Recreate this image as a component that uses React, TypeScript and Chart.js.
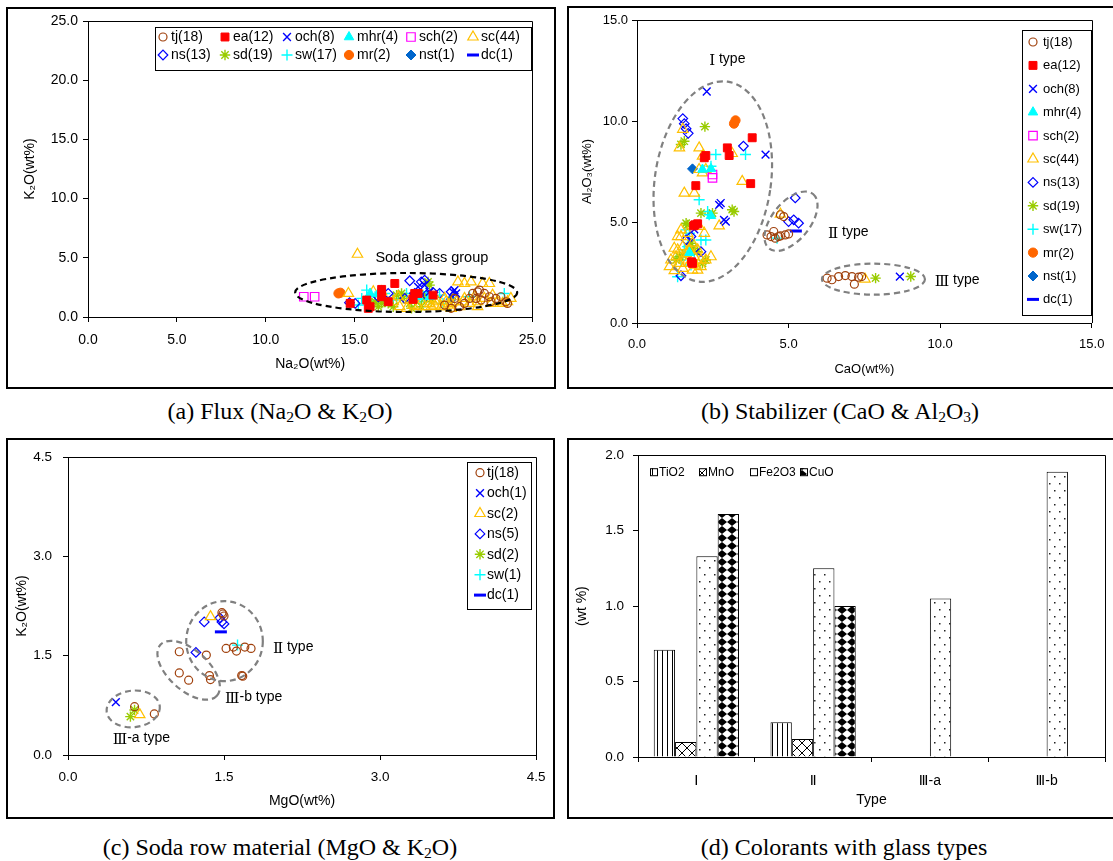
import React, { useEffect, useRef } from 'react';
import { Chart, registerables } from 'chart.js';
import { drawPoint } from 'chart.js/helpers';

Chart.register(...registerables);

const FONT = "'Liberation Sans', Arial, 'DejaVu Sans', sans-serif";
const NUM_FONT = "'DejaVu Serif', 'Liberation Serif', serif";
const CAP_FONT = "'Liberation Serif', 'Times New Roman', serif";

// ---------------- series keys and legend labels ----------------
const keysAB = ['tj', 'ea', 'och', 'mhr', 'sch', 'sc', 'ns', 'sd', 'sw', 'mr', 'nst', 'dc'];
const labelsAB = ['tj(18)', 'ea(12)', 'och(8)', 'mhr(4)', 'sch(2)', 'sc(44)', 'ns(13)', 'sd(19)', 'sw(17)', 'mr(2)', 'nst(1)', 'dc(1)'];
const keysC = ['tj', 'och', 'sc', 'ns', 'sd', 'sw', 'dc'];
const labelsC = ['tj(18)', 'och(1)', 'sc(2)', 'ns(5)', 'sd(2)', 'sw(1)', 'dc(1)'];

// ---------------- (a) Na2O (x) vs K2O (y) ----------------
const tjA = [[20.62, 1.57], [20.9, 0.87], [21.18, 1.15], [21.46, 1.57], [21.64, 1.99], [21.92, 2.13], [22.02, 2.27], [22.3, 1.99], [22.58, 1.71], [22.95, 1.57], [23.23, 1.71], [23.51, 1.29], [23.6, 1.15], [20.43, 0.73], [20.06, 1.01], [22.67, 1.29], [21.83, 1.57], [22.11, 1.43]];
const eaA = [[14.75, 1.15], [15.77, 0.73], [15.87, 0.87], [16.52, 2.33], [17.26, 2.83], [16.52, 1.71], [18.38, 1.99], [18.57, 1.99], [19.41, 1.85], [16.89, 1.29], [18.29, 1.49], [15.68, 1.43]];
const ochA = [[20.53, 2.13], [20.62, 2.27], [14.75, 1.15], [18.57, 2.55], [18.94, 2.69], [20.71, 1.99], [19.22, 2.13], [18.29, 1.71]];
const mhrA = [[15.87, 1.99], [18.57, 1.71], [19.22, 1.71], [16.33, 1.99]];
const schA = [[12.14, 1.71], [12.75, 1.71]];
const scA = [[20.81, 2.97], [21.18, 2.83], [21.55, 2.97], [22.2, 2.83], [22.58, 2.83], [19.22, 1.15], [19.5, 1.01], [19.87, 0.87], [20.25, 1.01], [20.43, 1.15], [20.9, 0.87], [21.09, 1.29], [21.46, 1.15], [21.92, 1.29], [19.5, 1.43], [20.06, 1.57], [20.62, 1.71], [21.18, 1.57], [23.04, 1.29], [23.32, 1.15], [23.6, 1.29], [16.52, 2.13], [14.65, 1.99], [17.17, 1.29], [17.45, 1.71], [18.1, 1.43], [18.57, 0.87], [18.94, 0.87], [19.31, 0.87], [20.06, 0.87], [20.43, 0.73], [19.69, 1.29], [20.15, 1.29], [20.71, 1.29], [21.74, 1.71], [22.3, 1.57], [22.76, 1.85], [18.29, 1.01], [17.54, 0.87], [17.92, 0.73], [16.05, 2.13], [21.92, 0.87], [22.67, 1.15], [23.79, 1.57]];
const nsA = [[14.71, 1.21], [16.89, 1.99], [17.82, 1.57], [18.1, 3.06], [18.75, 2.97], [18.94, 3.11], [18.38, 1.99], [19.41, 2.08], [19.78, 1.99], [20.43, 2.13], [16.33, 1.71], [19.03, 1.85], [15.03, 1.15]];
const sdA = [[16.52, 1.15], [16.89, 1.15], [17.36, 1.85], [17.64, 1.99], [18.2, 0.73], [18.75, 0.87], [19.13, 2.97], [19.22, 2.69], [16.33, 0.87], [16.15, 1.29], [16.7, 1.43], [17.17, 0.87], [18.38, 1.43], [18.94, 1.57], [19.31, 1.29], [15.96, 1.15], [17.73, 1.57], [18.66, 1.99], [18.1, 1.15]];
const swA = [[15.21, 1.01], [15.68, 2.27], [15.77, 1.43], [16.7, 1.99], [17.17, 1.43], [17.92, 1.99], [19.31, 1.85], [19.78, 1.85], [21.46, 1.71], [23.42, 1.99], [15.4, 1.57], [16.33, 1.29], [18.75, 1.29], [19.97, 1.15], [17.36, 1.57], [19.03, 2.13], [16.15, 1.71]];
const mrA = [[14.09, 1.99], [14.2, 2.05]];
const nstA = [[20.43, 1.49]];
const dcA = [[18.66, 1.91]];

// ---------------- (b) CaO (x) vs Al2O3 (y) ----------------
const tjB = [[4.29, 4.36], [4.42, 4.28], [4.56, 4.2], [4.73, 4.31], [4.89, 4.36], [5.0, 4.41], [4.73, 5.36], [4.84, 5.27], [4.51, 4.53], [4.67, 4.28], [6.27, 2.22], [6.43, 2.14], [6.65, 2.3], [6.87, 2.35], [7.09, 2.3], [7.31, 2.27], [7.17, 1.92], [7.41, 2.3]];
const eaB = [[3.8, 9.17], [2.98, 8.67], [3.04, 8.29], [2.27, 8.29], [3.75, 6.9], [1.94, 6.8], [1.91, 4.86], [2.0, 4.91], [1.8, 3.03], [1.83, 2.95], [1.87, 4.81], [2.22, 8.18]];
const ochB = [[2.3, 11.46], [4.24, 8.34], [2.76, 5.94], [2.71, 5.85], [2.87, 5.11], [2.93, 5.02], [1.89, 4.64], [8.67, 2.3]];
const mhrB = [[2.16, 7.6], [2.44, 7.63], [2.44, 5.31], [1.73, 3.48]];
const schB = [[2.49, 7.35], [2.49, 7.18]];
const scB = [[1.51, 9.59], [1.4, 8.67], [2.05, 8.67], [2.16, 8.26], [3.14, 8.39], [3.47, 7.01], [1.56, 6.43], [1.89, 6.43], [1.45, 4.61], [2.05, 4.78], [2.71, 4.81], [1.07, 2.79], [1.23, 2.59], [1.34, 3.62], [1.51, 3.78], [1.29, 3.28], [1.56, 3.12], [1.73, 2.95], [1.94, 2.87], [2.11, 2.79], [1.4, 2.95], [1.62, 3.45], [1.83, 3.95], [2.0, 3.62], [2.16, 7.43], [2.27, 7.6], [1.45, 4.28], [1.67, 4.44], [1.89, 3.28], [1.12, 3.12], [2.05, 7.6], [2.22, 4.44], [1.83, 2.62], [1.34, 4.28], [2.27, 3.12], [1.51, 2.7], [1.73, 3.62], [2.0, 2.62], [1.23, 3.7], [2.11, 3.12], [2.44, 3.28], [1.62, 2.95], [4.73, 5.39], [7.52, 2.17]];
const nsB = [[1.51, 10.12], [1.56, 9.87], [1.62, 9.62], [1.69, 9.39], [3.51, 8.76], [1.62, 4.11], [1.45, 2.34], [5.22, 6.19], [5.0, 5.02], [5.17, 5.11], [5.33, 4.94], [2.11, 3.53], [1.78, 4.28]];
const sdB = [[2.24, 9.72], [1.56, 9.0], [3.14, 5.61], [3.2, 5.52], [2.49, 5.44], [1.62, 4.94], [2.27, 3.12], [1.4, 3.28], [1.51, 3.37], [1.67, 4.86], [2.0, 3.53], [1.83, 3.7], [1.29, 3.12], [1.45, 8.84], [2.11, 5.44], [1.78, 3.95], [2.16, 2.95], [7.87, 2.22], [9.03, 2.3]];
const swB = [[2.6, 8.34], [3.58, 8.34], [2.05, 6.1], [2.33, 5.52], [2.44, 7.76], [1.73, 4.44], [2.27, 4.11], [1.34, 2.29], [1.78, 2.87], [1.56, 3.62], [1.67, 3.78], [1.89, 3.53], [2.38, 5.36], [4.62, 4.2], [2.11, 4.11], [1.45, 3.12], [1.62, 4.61]];
const mrB = [[3.2, 9.87], [3.25, 10.03]];
const nstB = [[1.83, 7.63]];
const dcB = [[5.24, 4.56]];

// ---------------- (c) MgO (x) vs K2O (y) ----------------
const tjC = [[0.64, 0.73], [0.83, 0.62], [1.07, 1.56], [1.07, 1.24], [1.16, 1.13], [1.33, 1.51], [1.36, 1.2], [1.37, 1.14], [1.49, 2.13], [1.5, 2.1], [1.48, 2.15], [1.52, 1.61], [1.59, 1.63], [1.62, 1.57], [1.7, 1.63], [1.76, 1.61], [1.67, 1.2], [1.68, 1.19]];
const ochC = [[0.46, 0.8]];
const scC = [[1.37, 2.09], [0.69, 0.61]];
const nsC = [[1.31, 2.01], [1.23, 1.55], [1.46, 2.07], [1.48, 2.01], [1.5, 1.98]];
const sdC = [[0.6, 0.58], [0.64, 0.68]];
const swC = [[1.63, 1.66]];
const dcC = [[1.47, 1.86]];

// ---------------- (d) colorants by glass type ----------------
const typeCats = ['Ⅰ', 'Ⅱ', 'Ⅲ-a', 'Ⅲ-b'];
const colorantNames = ['TiO2', 'MnO', 'Fe2O3', 'CuO'];
const tio2Vals = [0.71, 0.23, null, null];
const mnoVals = [0.1, 0.12, null, null];
const fe2o3Vals = [1.33, 1.25, 1.05, 1.89];
const cuoVals = [1.61, 1.0, null, null];

// ---------------- marker styles ----------------
const NONE = 'rgba(0,0,0,0)';
const STY: Record<string, { style: string; r: number; fill: string; stroke: string; bw: number }> = {
  tj: { style: 'circle', r: 4, fill: NONE, stroke: '#A0410D', bw: 1.2 },
  ea: { style: 'rect', r: 5.6, fill: '#FF0000', stroke: '#FF0000', bw: 1 },
  och: { style: 'crossRot', r: 5.5, fill: NONE, stroke: '#0000FF', bw: 1.4 },
  mhr: { style: 'triangle', r: 5.5, fill: '#00FFFF', stroke: '#00FFFF', bw: 1 },
  sch: { style: 'rect', r: 6, fill: NONE, stroke: '#FF00FF', bw: 1.2 },
  sc: { style: 'triangle', r: 6, fill: NONE, stroke: '#FFC000', bw: 1.2 },
  ns: { style: 'rectRot', r: 4.8, fill: NONE, stroke: '#0000FF', bw: 1.2 },
  sd: { style: 'star', r: 5.2, fill: NONE, stroke: '#99CC00', bw: 1.4 },
  sw: { style: 'cross', r: 5.5, fill: NONE, stroke: '#00FFFF', bw: 1.4 },
  mr: { style: 'circle', r: 4.6, fill: '#FF6600', stroke: '#FF6600', bw: 1 },
  nst: { style: 'rectRot', r: 5, fill: '#0066CC', stroke: '#0066CC', bw: 1 },
  dc: { style: 'line', r: 6, fill: '#0000FF', stroke: '#0000FF', bw: 3 },
};

function drawMarker(ctx: CanvasRenderingContext2D, key: string, x: number, y: number) {
  const st = STY[key];
  ctx.save();
  ctx.fillStyle = st.fill;
  ctx.strokeStyle = st.stroke;
  ctx.lineWidth = st.bw;
  drawPoint(ctx, { pointStyle: st.style as any, radius: st.r, rotation: 0, borderWidth: st.bw } as any, x, y);
  ctx.restore();
}

interface Ell { cx: number; cy: number; rx: number; ry: number; rot: number; color: string; }
interface Lab { x: number; y: number; num?: string; text: string; }
interface Leg { x: number; y: number; w: number; h: number; cols: number; mx: number; my: number; colW: number; rowH: number; tx: number; fs: number; keys: string[]; labels: string[]; }
interface BarLeg { x0: number[]; y: number; size: number; fs: number; names: string[]; fills: CanvasPattern[]; }
interface Deco { ellipses?: Ell[]; labels?: Lab[]; labelFs?: number; legend?: Leg; markers?: { key: string; x: number; y: number }[]; barLegend?: BarLeg; }

function decoPlugin(cfg: Deco) {
  return {
    id: 'deco',
    afterDraw(chart: any) {
      const ctx: CanvasRenderingContext2D = chart.ctx;
      const ca = chart.chartArea;
      const xs = chart.scales.x;
      const ys = chart.scales.y;
      ctx.save();
      // top / right frame of plot area
      ctx.strokeStyle = '#000';
      ctx.lineWidth = 1;
      ctx.beginPath();
      ctx.moveTo(Math.round(ca.left), Math.round(ca.top) + 0.5);
      ctx.lineTo(Math.round(ca.right) + 0.5, Math.round(ca.top) + 0.5);
      ctx.lineTo(Math.round(ca.right) + 0.5, Math.round(ca.bottom));
      ctx.stroke();
      // dashed group ellipses
      (cfg.ellipses || []).forEach((e) => {
        const px = xs.getPixelForValue(e.cx);
        const py = ys.getPixelForValue(e.cy);
        ctx.beginPath();
        ctx.setLineDash([6, 4]);
        ctx.lineWidth = 2.2;
        ctx.strokeStyle = e.color;
        ctx.ellipse(px, py, e.rx, e.ry, (e.rot * Math.PI) / 180, 0, Math.PI * 2);
        ctx.stroke();
      });
      ctx.setLineDash([]);
      // marker annotations
      (cfg.markers || []).forEach((m) => drawMarker(ctx, m.key, xs.getPixelForValue(m.x), ys.getPixelForValue(m.y)));
      // text annotations
      const fs = cfg.labelFs || 14;
      (cfg.labels || []).forEach((l) => {
        let px = xs.getPixelForValue(l.x);
        const py = ys.getPixelForValue(l.y);
        ctx.fillStyle = '#000';
        ctx.textBaseline = 'middle';
        ctx.textAlign = 'left';
        if (l.num) {
          ctx.font = `${fs + 1}px ${NUM_FONT}`;
          ctx.fillText(l.num, px, py + 2);
          px += ctx.measureText(l.num).width;
        }
        ctx.font = `${fs}px ${FONT}`;
        ctx.fillText(l.text, px, py);
      });
      // legend box
      const L = cfg.legend;
      if (L) {
        ctx.fillStyle = '#fff';
        ctx.fillRect(L.x, L.y, L.w, L.h);
        ctx.strokeStyle = '#000';
        ctx.lineWidth = 1;
        ctx.strokeRect(L.x + 0.5, L.y + 0.5, L.w, L.h);
        L.keys.forEach((k, i) => {
          const col = i % L.cols;
          const row = Math.floor(i / L.cols);
          const mx = L.x + L.mx + col * L.colW;
          const my = L.y + L.my + row * L.rowH;
          drawMarker(ctx, k, mx, my);
          ctx.fillStyle = '#000';
          ctx.font = `${L.fs}px ${FONT}`;
          ctx.textBaseline = 'middle';
          ctx.textAlign = 'left';
          ctx.fillText(L.labels[i], mx + L.tx, my + 0.5);
        });
      }
      const B = cfg.barLegend;
      if (B) {
        B.names.forEach((n, i) => {
          const x = B.x0[i];
          ctx.fillStyle = B.fills[i];
          ctx.fillRect(x, B.y - B.size / 2, B.size, B.size);
          ctx.strokeStyle = '#000';
          ctx.lineWidth = 1;
          ctx.strokeRect(x + 0.5, B.y - B.size / 2 + 0.5, B.size, B.size);
          ctx.fillStyle = '#000';
          ctx.font = `${B.fs}px ${FONT}`;
          ctx.textBaseline = 'middle';
          ctx.textAlign = 'left';
          ctx.fillText(n, x + B.size + 2, B.y + 0.5);
        });
      }
      ctx.restore();
    },
  };
}

function linAxis(pos: 'left' | 'bottom', min: number, max: number, step: number, title: string, fs: number, tfs: number, tickPad: number, titlePad: number, size: number) {
  return {
    type: 'linear',
    position: pos,
    min,
    max,
    ticks: { stepSize: step, autoSkip: false, maxRotation: 0, padding: tickPad, color: '#000', font: { family: FONT, size: fs }, callback: (v: any) => Number(v).toFixed(1) },
    grid: { drawOnChartArea: false, drawTicks: true, tickLength: 5, color: '#000' },
    border: { display: true, color: '#000', width: 1 },
    title: { display: true, text: title, color: '#000', font: { family: FONT, size: tfs }, padding: pos === 'left' ? { top: titlePad, bottom: 0 } : { top: 0, bottom: titlePad } },
    afterFit: (s: any) => {
      if (pos === 'left') s.width = size;
      else s.height = size;
    },
  };
}

function scatterConfig(keys: string[], labels: string[], data: number[][][], pad: any, x: any, y: any, deco: Deco): any {
  return {
    type: 'scatter',
    data: {
      datasets: keys.map((k, i) => ({
        label: labels[i],
        data: data[i].map(([px, py]) => ({ x: px, y: py })),
        pointStyle: STY[k].style,
        pointRadius: STY[k].r,
        pointHoverRadius: STY[k].r,
        pointBackgroundColor: STY[k].fill,
        pointBorderColor: STY[k].stroke,
        pointBorderWidth: STY[k].bw,
      })),
    },
    options: {
      responsive: false,
      animation: false,
      devicePixelRatio: 1,
      events: [],
      layout: { padding: pad },
      scales: { x, y },
      plugins: { legend: { display: false }, tooltip: { enabled: false } },
    },
    plugins: [decoPlugin(deco)],
  };
}

function makeA() {
  return scatterConfig(
    keysAB, labelsAB,
    [tjA, eaA, ochA, mhrA, schA, scA, nsA, sdA, swA, mrA, nstA, dcA],
    { top: 14, right: 21, left: 0, bottom: 0 },
    linAxis('bottom', 0, 25, 5, 'Na₂O(wt%)', 14, 14, 10, 16, 72),
    linAxis('left', 0, 25, 5, 'K₂O(wt%)', 14, 14, 5, 16, 82),
    {
      ellipses: [{ cx: 17.9, cy: 2.07, rx: 111, ry: 19.5, rot: 0, color: '#000' }],
      markers: [{ key: 'sc', x: 15.16, y: 5.3 }],
      labels: [{ x: 16.17, y: 5.0, text: 'Soda glass group' }],
      labelFs: 14.5,
      legend: { x: 149, y: 20, w: 376, h: 43, cols: 6, mx: 8, my: 10, colW: 62, rowH: 18, tx: 8, fs: 14, keys: keysAB, labels: labelsAB },
    }
  );
}

function makeB() {
  return scatterConfig(
    keysAB, labelsAB,
    [tjB, eaB, ochB, mhrB, schB, scB, nsB, sdB, swB, mrB, nstB, dcB],
    { top: 14, right: 18, left: 0, bottom: 0 },
    linAxis('bottom', 0, 15, 5, 'CaO(wt%)', 13, 13, 8.6, 11.6, 66),
    linAxis('left', 0, 15, 5, 'Al₂O₃(wt%)', 13, 13, 4, 12.6, 70),
    {
      ellipses: [
        { cx: 2.5, cy: 7.0, rx: 58, ry: 101, rot: 8.5, color: '#808080' },
        { cx: 5.08, cy: 5.04, rx: 35, ry: 19, rot: -51, color: '#808080' },
        { cx: 7.8, cy: 2.17, rx: 51.5, ry: 15.5, rot: 0, color: '#808080' },
      ],
      labels: [
        { x: 2.38, y: 13.07, num: 'Ⅰ', text: ' type' },
        { x: 6.3, y: 4.5, num: 'Ⅱ', text: ' type' },
        { x: 9.82, y: 2.13, num: 'Ⅲ', text: ' type' },
      ],
      labelFs: 14,
      legend: { x: 455, y: 24, w: 69, h: 285, cols: 1, mx: 11, my: 12, colW: 0, rowH: 23.4, tx: 10, fs: 13, keys: keysAB, labels: labelsAB },
    }
  );
}

function makeC() {
  return scatterConfig(
    keysC, labelsC,
    [tjC, ochC, scC, nsC, sdC, swC, dcC],
    { top: 15, right: 18, left: 0, bottom: 0 },
    linAxis('bottom', 0, 4.5, 1.5, 'MgO(wt%)', 13.5, 14, 9.6, 9.6, 64),
    linAxis('left', 0, 4.5, 1.5, 'K₂O(wt%)', 13.5, 14, 11, 7.6, 62),
    {
      ellipses: [
        { cx: 1.505, cy: 1.72, rx: 38.3, ry: 40, rot: 0, color: '#808080' },
        { cx: 1.16, cy: 1.28, rx: 38, ry: 20, rot: 42, color: '#808080' },
        { cx: 0.627, cy: 0.696, rx: 26.7, ry: 18.3, rot: -6, color: '#808080' },
      ],
      labels: [
        { x: 1.97, y: 1.63, num: 'Ⅱ', text: ' type' },
        { x: 1.51, y: 0.87, num: 'Ⅲ', text: '-b type' },
        { x: 0.43, y: 0.25, num: 'Ⅲ', text: '-a type' },
      ],
      labelFs: 14,
      legend: { x: 461, y: 24, w: 64, h: 147, cols: 1, mx: 13, my: 10.7, colW: 0, rowH: 20.4, tx: 7, fs: 14, keys: keysC, labels: labelsC },
    }
  );
}

function makePattern(kind: string): CanvasPattern {
  const c = document.createElement('canvas');
  const g = c.getContext('2d')!;
  if (kind === 'ti') {
    c.width = 5; c.height = 4;
    g.fillStyle = '#fff'; g.fillRect(0, 0, 5, 4);
    g.fillStyle = '#000'; g.fillRect(0, 0, 1, 4);
  } else if (kind === 'mn') {
    c.width = 10; c.height = 10;
    g.fillStyle = '#fff'; g.fillRect(0, 0, 10, 10);
    g.strokeStyle = '#000'; g.lineWidth = 1;
    g.beginPath(); g.moveTo(0, 0); g.lineTo(10, 10); g.moveTo(10, 0); g.lineTo(0, 10); g.stroke();
  } else if (kind === 'fe') {
    c.width = 10; c.height = 14;
    g.fillStyle = '#fff'; g.fillRect(0, 0, 10, 14);
    g.fillStyle = '#222'; g.fillRect(2, 3, 1.5, 1.5); g.fillRect(7, 10, 1.5, 1.5);
  } else {
    c.width = 10; c.height = 8;
    g.fillStyle = '#fff'; g.fillRect(0, 0, 10, 8);
    g.fillStyle = '#000';
    g.beginPath(); g.moveTo(5, 0); g.lineTo(10, 4); g.lineTo(5, 8); g.lineTo(0, 4); g.closePath(); g.fill();
  }
  return g.createPattern(c, 'repeat')!;
}

function makeD(): any {
  const fills = ['ti', 'mn', 'fe', 'cu'].map(makePattern);
  const vals = [tio2Vals, mnoVals, fe2o3Vals, cuoVals];
  const yAxis = linAxis('left', 0, 2, 0.5, '(wt %)', 13.5, 14, 9, 6.6, 71);
  return {
    type: 'bar',
    data: {
      labels: typeCats,
      datasets: colorantNames.map((n, i) => ({
        label: n,
        data: vals[i],
        backgroundColor: fills[i],
        borderColor: '#000',
        borderWidth: 1,
        categoryPercentage: 0.73,
        barPercentage: 1.0,
      })),
    },
    options: {
      responsive: false,
      animation: false,
      devicePixelRatio: 1,
      events: [],
      layout: { padding: { top: 15, right: 8, left: 0, bottom: 0 } },
      scales: {
        x: {
          type: 'category',
          position: 'bottom',
          ticks: { padding: 10.3, color: '#000', font: { family: "'Liberation Sans', 'DejaVu Sans', sans-serif", size: 14 }, maxRotation: 0 },
          grid: { offset: true, drawOnChartArea: false, drawTicks: true, tickLength: 5, color: '#000' },
          border: { display: true, color: '#000', width: 1 },
          title: { display: true, text: 'Type', color: '#000', font: { family: FONT, size: 14 }, padding: { top: 0, bottom: 10.6 } },
          afterFit: (s: any) => { s.height = 62; },
        },
        y: yAxis,
      },
      plugins: { legend: { display: false }, tooltip: { enabled: false } },
    },
    plugins: [
      decoPlugin({
        barLegend: { x0: [83, 132, 183, 233], y: 33.7, size: 7, fs: 12, names: colorantNames, fills },
      }),
    ],
  };
}

function ChartBox({ left, top, width, height, make }: { left: number; top: number; width: number; height: number; make: () => any }) {
  const ref = useRef<HTMLCanvasElement>(null);
  useEffect(() => {
    const chart = new Chart(ref.current!, make());
    return () => chart.destroy();
  }, []);
  return <canvas ref={ref} width={width} height={height} style={{ position: 'absolute', left, top, width, height }} />;
}

function Frame({ left, top, width, height, noRight }: { left: number; top: number; width: number; height: number; noRight?: boolean }) {
  return (
    <div
      style={{
        position: 'absolute', left, top, width, height, boxSizing: 'border-box',
        borderTop: '2px solid #000', borderLeft: '2px solid #000', borderBottom: '2px solid #000',
        borderRight: noRight ? 'none' : '2px solid #000',
      }}
    />
  );
}

const subSt: React.CSSProperties = { fontSize: '0.65em', verticalAlign: '-0.22em', lineHeight: 0 };

function Caption({ cx, cy, children }: { cx: number; cy: number; children: React.ReactNode }) {
  return (
    <div style={{ position: 'absolute', left: cx - 300, top: cy - 14, width: 600, lineHeight: '28px', fontSize: 24, fontFamily: CAP_FONT, textAlign: 'center', whiteSpace: 'nowrap', color: '#000' }}>
      {children}
    </div>
  );
}

export default function App() {
  return (
    <div style={{ position: 'absolute', left: 0, top: 0, width: 1113, height: 861, overflow: 'hidden', background: '#fff' }}>
      <Frame left={6} top={7} width={550} height={382} />
      <Frame left={567} top={6} width={546} height={383} noRight />
      <Frame left={6} top={438} width={549} height={381} />
      <Frame left={567} top={438} width={546} height={381} noRight />
      <ChartBox left={6} top={7} width={550} height={382} make={makeA} />
      <ChartBox left={567} top={6} width={546} height={383} make={makeB} />
      <ChartBox left={6} top={438} width={549} height={381} make={makeC} />
      <ChartBox left={567} top={438} width={546} height={381} make={makeD} />
      <Caption cx={280} cy={411}>(a) Flux (Na<sub style={subSt}>2</sub>O &amp; K<sub style={subSt}>2</sub>O)</Caption>
      <Caption cx={840} cy={411}>(b) Stabilizer (CaO &amp; Al<sub style={subSt}>2</sub>O<sub style={subSt}>3</sub>)</Caption>
      <Caption cx={280} cy={847}>(c) Soda row material (MgO &amp; K<sub style={subSt}>2</sub>O)</Caption>
      <Caption cx={844} cy={847}>(d) Colorants with glass types</Caption>
    </div>
  );
}
